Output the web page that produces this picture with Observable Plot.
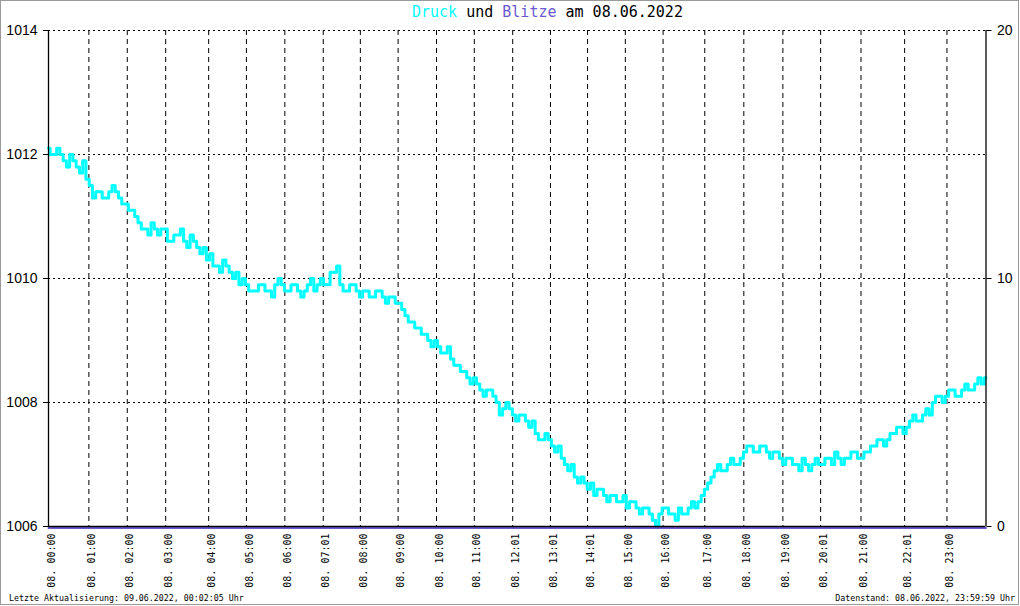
<!DOCTYPE html>
<html>
<head>
<meta charset="utf-8">
<script src="https://cdn.jsdelivr.net/npm/d3@7"></script>
<script src="https://cdn.jsdelivr.net/npm/@observablehq/plot@0.6"></script>
<style>
  body { margin: 0; background: #fff; }
  #wrap { position: relative; width: 1020px; height: 606px; overflow: hidden; background: #fff; }
  #frame { position: absolute; left: 0; top: 0; width: 1019px; height: 605px; border: 1px solid #9a9a9a; box-sizing: border-box; pointer-events: none; }
  #title { position: absolute; top: 5px; left: 412px; font: 15px "DejaVu Sans Mono", monospace; line-height: 1; white-space: pre; }
  .foot { position: absolute; top: 594px; font: 8.3px "DejaVu Sans Mono", monospace; line-height: 1; white-space: pre; color: #000; }
  #chart { position: absolute; left: 0; top: 0; }
</style>
</head>
<body>
<div id="wrap">
  <div id="chart"></div>
  <div id="title"><span style="color:#00ffff">Druck</span> und <span style="color:#6a5acd">Blitze</span> am 08.06.2022</div>
  <div class="foot" style="left:9px">Letzte Aktualisierung: 09.06.2022, 00:02:05 Uhr</div>
  <div class="foot" style="right:5px">Datenstand: 08.06.2022, 23:59:59 Uhr</div>
  <div id="frame"></div>
</div>
<script>
// Sample index axis (0..1440 samples over the day)
const sampleStep = 5;
const xDomain = [0, 1440];

// Druck (hPa), one value every 5 samples
const druck = [
  1012.1,1012.0,1012.0,1012.1,1012.0,1011.9,1011.8,1012.0,1011.9,1011.8,1011.7,1011.9,1011.6,1011.5,1011.3,1011.4,1011.4,1011.3,1011.3,1011.4,
  1011.5,1011.4,1011.3,1011.2,1011.2,1011.1,1011.1,1011.0,1010.9,1010.8,1010.8,1010.7,1010.9,1010.8,1010.7,1010.8,1010.8,1010.6,1010.6,1010.7,
  1010.7,1010.8,1010.6,1010.5,1010.7,1010.6,1010.5,1010.4,1010.5,1010.3,1010.4,1010.2,1010.2,1010.1,1010.3,1010.2,1010.1,1010.0,1010.1,1009.9,
  1010.0,1009.9,1009.8,1009.8,1009.8,1009.9,1009.9,1009.8,1009.8,1009.7,1009.9,1010.0,1009.9,1009.8,1009.8,1009.9,1009.9,1009.8,1009.7,1009.8,
  1009.9,1010.0,1009.8,1009.9,1010.0,1009.9,1009.9,1010.1,1010.1,1010.2,1009.9,1009.8,1009.8,1009.9,1009.9,1009.8,1009.7,1009.8,1009.8,1009.7,
  1009.7,1009.8,1009.8,1009.7,1009.6,1009.7,1009.7,1009.6,1009.6,1009.5,1009.4,1009.3,1009.3,1009.2,1009.2,1009.1,1009.1,1009.0,1008.9,1009.0,
  1008.9,1008.8,1008.8,1008.9,1008.7,1008.6,1008.6,1008.5,1008.5,1008.4,1008.3,1008.4,1008.3,1008.2,1008.1,1008.2,1008.2,1008.1,1008.0,1007.8,
  1007.9,1008.0,1007.9,1007.8,1007.7,1007.8,1007.8,1007.7,1007.6,1007.7,1007.5,1007.4,1007.4,1007.5,1007.4,1007.3,1007.2,1007.3,1007.1,1007.0,
  1006.9,1007.0,1006.8,1006.7,1006.8,1006.7,1006.6,1006.7,1006.5,1006.6,1006.6,1006.5,1006.4,1006.5,1006.5,1006.4,1006.4,1006.5,1006.3,1006.4,
  1006.4,1006.3,1006.2,1006.3,1006.3,1006.2,1006.1,1006.0,1006.2,1006.3,1006.3,1006.2,1006.2,1006.1,1006.3,1006.2,1006.2,1006.3,1006.4,1006.3,
  1006.4,1006.5,1006.6,1006.7,1006.8,1006.9,1007.0,1006.9,1006.9,1007.0,1007.1,1007.0,1007.0,1007.1,1007.2,1007.3,1007.3,1007.2,1007.2,1007.3,
  1007.3,1007.2,1007.1,1007.2,1007.2,1007.1,1007.0,1007.1,1007.1,1007.0,1007.0,1006.9,1007.1,1007.0,1006.9,1007.0,1007.1,1007.0,1007.0,1007.1,
  1007.1,1007.0,1007.2,1007.1,1007.0,1007.1,1007.1,1007.2,1007.2,1007.1,1007.1,1007.2,1007.2,1007.3,1007.3,1007.4,1007.4,1007.3,1007.4,1007.5,
  1007.5,1007.6,1007.6,1007.5,1007.6,1007.7,1007.8,1007.7,1007.7,1007.8,1007.9,1007.8,1008.0,1008.1,1008.1,1008.0,1008.1,1008.2,1008.2,1008.1,
  1008.1,1008.2,1008.3,1008.2,1008.2,1008.3,1008.4,1008.3,1008.4
];

// Blitze (count), right axis 0..20
const blitzeIdx = [0, 1440];
const blitze = [0, 0];

// Hour ticks (sample index where each hour begins) and their labels
const hourIdx = [0,62,121,180,246,304,363,422,479,537,596,654,713,771,828,886,944,1008,1068,1128,1186,1248,1315,1380];
const hourLabels = ["08. 00:00","08. 01:00","08. 02:00","08. 03:00","08. 04:00","08. 05:00","08. 06:00","08. 07:01",
  "08. 08:00","08. 09:00","08. 10:00","08. 11:00","08. 12:01","08. 13:01","08. 14:01","08. 15:00",
  "08. 16:00","08. 17:00","08. 18:00","08. 19:00","08. 20:01","08. 21:00","08. 22:01","08. 23:00"];

const leftTicks = [1006, 1008, 1010, 1012, 1014];
const rightTicks = [0, 10, 20];
const yDomain = [1006, 1014];
const rightDomain = [0, 20];

// map right-axis values onto the left scale
const toLeft = v => yDomain[0] + (v - rightDomain[0]) * (yDomain[1] - yDomain[0]) / (rightDomain[1] - rightDomain[0]);
const fromLeft = y => rightDomain[0] + (y - yDomain[0]) * (rightDomain[1] - rightDomain[0]) / (yDomain[1] - yDomain[0]);

const druckData = druck.map((v, i) => ({x: i * sampleStep, y: v}));
const blitzeData = blitze.map((v, i) => ({x: blitzeIdx[i], y: toLeft(v)}));
const labelOf = new Map(hourIdx.map((d, i) => [d, hourLabels[i]]));

const chart = Plot.plot({
  width: 1020,
  height: 606,
  marginLeft: 48,
  marginRight: 34.5,
  marginTop: 30,
  marginBottom: 80,
  style: { background: "transparent", color: "#000", fontFamily: "Liberation Sans", fontSize: "14px" },
  x: { domain: xDomain },
  y: { domain: yDomain },
  marks: [
    Plot.ruleY(leftTicks.slice(1), { stroke: "#000", strokeDasharray: "2,3" }),
    Plot.ruleX(hourIdx.slice(1), { stroke: "#000", strokeDasharray: "5,4" }),
    Plot.line(druckData, { x: "x", y: "y", stroke: "#00ffff", strokeWidth: 3, curve: "step" }),
    Plot.line(blitzeData, { x: "x", y: "y", stroke: "#6a5acd", strokeWidth: 2, dy: 1.5 }),
    Plot.ruleX(xDomain, { stroke: "#000", strokeWidth: 1.3 }),
    Plot.ruleY([yDomain[0]], { stroke: "#000", strokeWidth: 1.3 }),
    Plot.axisY({ anchor: "left", ticks: leftTicks, tickFormat: d => String(d), tickSize: 5, tickPadding: 6, label: null, fontSize: 14 }),
    Plot.axisY({ anchor: "right", ticks: rightTicks.map(toLeft), tickFormat: d => String(Math.round(fromLeft(d))), tickSize: 5, tickPadding: 6, label: null, fontSize: 14 }),
    Plot.axisX({ ticks: hourIdx, tickFormat: d => labelOf.get(d), tickRotate: -90, tickSize: 0, tickPadding: 7, dx: 3, label: null, fontFamily: "DejaVu Sans Mono", fontSize: 10 })
  ]
});
document.getElementById("chart").appendChild(chart);
</script>
</body>
</html>
